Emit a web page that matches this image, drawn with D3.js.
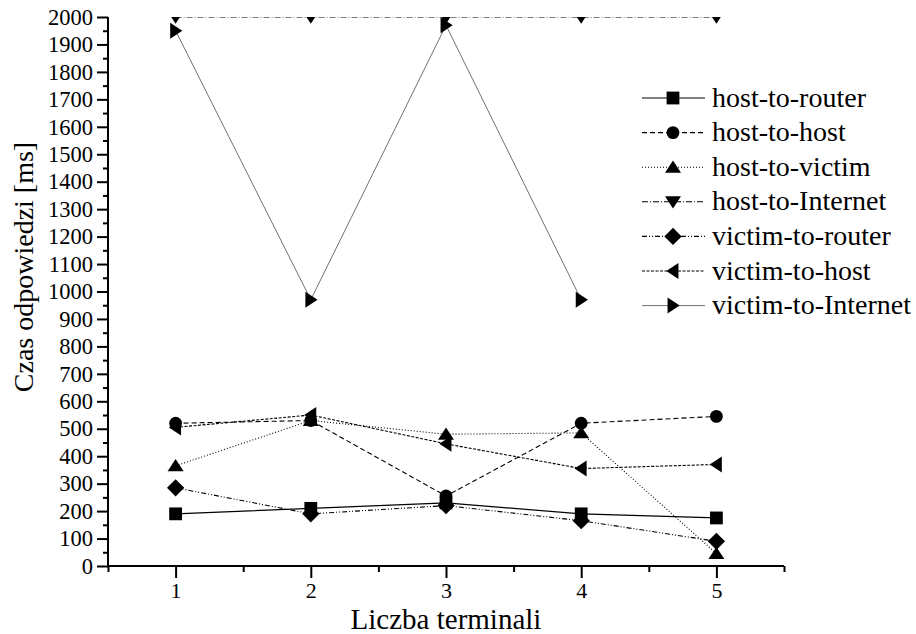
<!DOCTYPE html>
<html>
<head>
<meta charset="utf-8">
<script src="https://cdn.jsdelivr.net/npm/d3@7"></script>
<style>
  html, body { margin: 0; padding: 0; background: #fff; }
  svg { display: block; }
  svg text { font-family: "Liberation Serif", "Times New Roman", Times, serif; }
</style>
</head>
<body>
<svg id="chart" width="916" height="634"></svg>
<script>
// ---- data ----
const terminals = [1, 2, 3, 4, 5];
const seriesNames = ["host-to-router", "host-to-host", "host-to-victim", "host-to-Internet",
                     "victim-to-router", "victim-to-host", "victim-to-Internet"];
const hostToRouter     = [190, 210, 230, 190, 175];
const hostToHost       = [520, 530, 255, 520, 545];
const hostToVictim     = [365, 530, 480, 485, 45];
const hostToInternet   = [2000, 2000, 2000, 2000, 2000];
const victimToRouter   = [285, 190, 220, 165, 90];
const victimToHost     = [505, 550, 445, 355, 370];
const victimToInternet = [1950, 970, 1970, 970, null];
const yTicks = d3.range(0, 2001, 100);
const yMinorTicks = d3.range(50, 2000, 100);
const xTicks = [1, 2, 3, 4, 5];
const xMinorTicks = [0.5, 1.5, 2.5, 3.5, 4.5, 5.5];
const xTitle = "Liczba terminali";
const yTitle = "Czas odpowiedzi [ms]";

(function () {
const FONT = "'Liberation Serif', 'Times New Roman', Times, serif";
const allValues = [hostToRouter, hostToHost, hostToVictim, hostToInternet,
                   victimToRouter, victimToHost, victimToInternet];
const dashes = [null, "5,3", "1,2", "6,2,1,2", "5,2,1,2,1,2", "3,1.5", null];
const widths = [1.2, 1.1, 1.1, 1.1, 1.1, 1.1, 0.7];
const symbols = ["square", "circle", "up", "down", "diamond", "left", "right"];

const svg = d3.select("#chart");
const mLeft = 108, mRight = 784, mTop = 17, mBottom = 566;
const x = d3.scaleLinear().domain([0.5, 5.5]).range([mLeft, mRight]);
const y = d3.scaleLinear().domain([0, 2000]).range([mBottom, mTop]);

function marker(sel, type, s) {
  let p;
  const a = 1.25, b = 1.05, c = 0.85;
  if (type === "square") p = `M${-s},${-s}H${s}V${s}H${-s}Z`;
  else if (type === "circle") p = `M${-s},0A${s},${s} 0 1,0 ${s},0A${s},${s} 0 1,0 ${-s},0Z`;
  else if (type === "up") p = `M0,${-s*b}L${s*a},${s*c}L${-s*a},${s*c}Z`;
  else if (type === "down") p = `M0,${s*b}L${s*a},${-s*c}L${-s*a},${-s*c}Z`;
  else if (type === "left") p = `M${-s*b},0L${s*c},${-s*a}L${s*c},${s*a}Z`;
  else if (type === "right") p = `M${s*b},0L${-s*c},${-s*a}L${-s*c},${s*a}Z`;
  else if (type === "diamond") p = `M0,${-s*1.35}L${s*1.35},0L0,${s*1.35}L${-s*1.35},0Z`;
  sel.append("path").attr("d", p).attr("fill", "#000");
}

svg.append("defs").append("clipPath").attr("id", "plotclip")
  .append("rect").attr("x", mLeft).attr("y", mTop).attr("width", mRight - mLeft).attr("height", mBottom - mTop);

const plot = svg.append("g").attr("clip-path", "url(#plotclip)");

allValues.forEach((vals, i) => {
  const pts = terminals.map((t, j) => [t, vals[j]]).filter(d => d[1] != null);
  const line = d3.line().x(d => x(d[0])).y(d => y(d[1]));
  plot.append("path").attr("d", line(pts)).attr("fill", "none")
    .attr("stroke", i === 6 ? "#333" : "#000").attr("stroke-width", widths[i])
    .attr("stroke-dasharray", dashes[i]);
});
allValues.forEach((vals, i) => {
  terminals.forEach((t, j) => {
    if (vals[j] == null) return;
    const g = plot.append("g").attr("transform", `translate(${x(t)},${y(vals[j])})`);
    marker(g, symbols[i], 6.4);
  });
});

// ---- axes ----
const yMinor = svg.append("g").attr("transform", `translate(${mLeft},0)`)
  .call(d3.axisLeft(y).tickValues(yMinorTicks).tickSize(5).tickFormat(""));
yMinor.select(".domain").remove();
const xMinor = svg.append("g").attr("transform", `translate(0,${mBottom})`)
  .call(d3.axisBottom(x).tickValues(xMinorTicks).tickSize(6).tickFormat(""));
xMinor.select(".domain").remove();
const yAxis = svg.append("g").attr("transform", `translate(${mLeft},0)`)
  .call(d3.axisLeft(y).tickValues(yTicks).tickSize(11).tickPadding(4).tickFormat(d3.format("d")));
yAxis.select(".domain").attr("d", `M0,${mBottom}V${mTop}`);
const xAxis = svg.append("g").attr("transform", `translate(0,${mBottom})`)
  .call(d3.axisBottom(x).tickValues(xTicks).tickSize(12).tickPadding(4).tickFormat(d3.format("d")));
xAxis.select(".domain").attr("d", `M${mLeft},0H${mRight}`);

svg.selectAll("g").attr("font-family", null);
svg.selectAll(".domain").attr("stroke", "#000").attr("stroke-width", 2);
svg.selectAll(".tick line").attr("stroke", "#000").attr("stroke-width", 2);
yAxis.selectAll(".tick text").attr("fill", "#000").style("font-size", "22.5px")
   .style("font-family", FONT);
xAxis.selectAll(".tick text").attr("fill", "#000").style("font-size", "22px")
   .style("font-family", FONT);

// ---- titles ----
svg.append("text").attr("x", 446).attr("y", 629)
  .attr("text-anchor", "middle").style("font-size", "29px").style("font-family", FONT).text(xTitle);
svg.append("text").attr("transform", `translate(33,267) rotate(-90)`)
  .attr("text-anchor", "middle").style("font-size", "28px").style("font-family", FONT).text(yTitle);

// ---- legend ----
const leg = svg.append("g");
seriesNames.forEach((name, i) => {
  const cy = 98 + i * 34.6;
  leg.append("line").attr("x1", 642).attr("x2", 705).attr("y1", cy).attr("y2", cy)
    .attr("stroke", i === 6 ? "#333" : "#000").attr("stroke-width", widths[i])
    .attr("stroke-dasharray", dashes[i]);
  const g = leg.append("g").attr("transform", `translate(673,${cy})`);
  marker(g, symbols[i], 6.4);
  leg.append("text").attr("x", 712).attr("y", cy + 8.5).style("font-size", "28px")
    .style("font-family", FONT).text(name);
});
})();
</script>
</body>
</html>
